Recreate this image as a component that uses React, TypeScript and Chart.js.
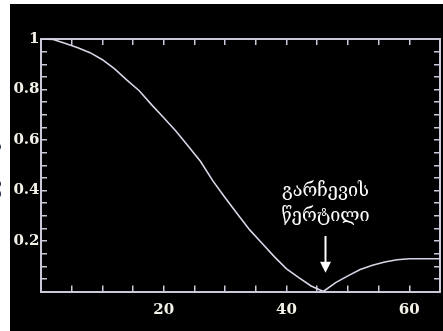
import React, { useEffect, useRef } from "react";
import { Chart, registerables } from "chart.js";

Chart.register(...registerables);

// Data
const xValues = [0, 2, 4, 6, 8, 10, 12, 14, 16, 18, 20, 22, 24, 26, 28, 30, 32, 34, 36, 38, 40, 42, 44, 46, 48, 50, 52, 54, 56, 58, 60, 62, 65];
const yValues = [1, 0.998, 0.982, 0.965, 0.946, 0.918, 0.882, 0.837, 0.795, 0.74, 0.688, 0.635, 0.575, 0.515, 0.438, 0.371, 0.307, 0.244, 0.191, 0.138, 0.09, 0.055, 0.022, 0.0, 0.035, 0.062, 0.087, 0.104, 0.117, 0.126, 0.13, 0.13, 0.13];
const xTickLabels = [20, 40, 60];
const yTickLabels = [0.2, 0.4, 0.6, 0.8, 1];
const annotationLines = ["გარჩევის", "წერტილი"];
const annotationX = 46.2;
const yAxisTitle = "ინტენსივობა";

const AXIS_COLOR = "#c9c9d9";
const TICK_FONT = { family: "'DejaVu Serif', serif", size: 15, weight: "bold" as const };

const zeroPad = (s: any) => {
  s.paddingLeft = 0;
  s.paddingRight = 0;
  s.paddingTop = 0;
  s.paddingBottom = 0;
};

export default function App() {
  const canvasRef = useRef<HTMLCanvasElement | null>(null);

  useEffect(() => {
    document.body.style.margin = "0";
    const canvas = canvasRef.current;
    if (!canvas) return;

    const bgPlugin = {
      id: "bg",
      beforeDraw(chart: any) {
        const ctx = chart.ctx;
        ctx.save();
        ctx.fillStyle = "#ffffff";
        ctx.fillRect(0, 0, chart.width, chart.height);
        // y axis title, mostly cut off on the white strip
        ctx.translate(-3, 165);
        ctx.rotate(-Math.PI / 2);
        ctx.fillStyle = "#1a2a44";
        ctx.font = "16px 'DejaVu Serif', serif";
        ctx.textAlign = "center";
        ctx.textBaseline = "alphabetic";
        ctx.fillText(yAxisTitle, 0, 0);
        ctx.restore();
        ctx.save();
        ctx.fillStyle = "#000000";
        ctx.fillRect(10, 4, chart.width - 10, chart.height - 4);
        ctx.restore();
      },
    };

    const annotationPlugin = {
      id: "annot",
      afterDraw(chart: any) {
        const ctx = chart.ctx;
        const xs = chart.scales.x;
        const ys = chart.scales.y;
        const px = Math.round(xs.getPixelForValue(annotationX)) + 0.5;
        ctx.save();
        ctx.fillStyle = "#ffffff";
        ctx.strokeStyle = "#ffffff";
        ctx.font = "18px 'DejaVu Serif', serif";
        ctx.textAlign = "center";
        ctx.textBaseline = "middle";
        ctx.fillText(annotationLines[0], px, ys.getPixelForValue(0.396));
        ctx.fillText(annotationLines[1], px, ys.getPixelForValue(0.297));
        // arrow
        const yTop = ys.getPixelForValue(0.22);
        const yTip = ys.getPixelForValue(0.074);
        ctx.lineWidth = 2;
        ctx.beginPath();
        ctx.moveTo(px, yTop);
        ctx.lineTo(px, yTip - 8);
        ctx.stroke();
        ctx.beginPath();
        ctx.moveTo(px - 5.5, yTip - 11);
        ctx.lineTo(px + 5.5, yTip - 11);
        ctx.lineTo(px, yTip);
        ctx.closePath();
        ctx.fill();
        ctx.restore();
      },
    };

    const xLabel = (v: number) => (xTickLabels.includes(Math.round(v)) ? String(Math.round(v)) : "");
    const yLabel = (v: number) => {
      const r = Math.round(v * 100) / 100;
      return yTickLabels.some((t) => Math.abs(t - r) < 1e-6) ? String(r) : "";
    };

    const gridOpts = {
      drawOnChartArea: false,
      drawTicks: true,
      tickLength: -6,
      color: AXIS_COLOR,
      lineWidth: 1.5,
    };
    const borderOpts = { display: true, color: AXIS_COLOR, width: 2 };

    const chart = new Chart(canvas, {
      type: "line",
      data: {
        datasets: [
          {
            data: xValues.map((x, i) => ({ x, y: yValues[i] })),
            borderColor: "#d6d6e6",
            borderWidth: 1.6,
            pointRadius: 0,
            tension: 0,
            fill: false,
          },
        ],
      },
      options: {
        animation: false,
        responsive: false,
        devicePixelRatio: 1,
        layout: { padding: 0 },
        plugins: { legend: { display: false }, tooltip: { enabled: false } },
        scales: {
          x: {
            type: "linear",
            position: "bottom",
            min: 0,
            max: 65,
            grid: gridOpts,
            border: borderOpts,
            ticks: {
              stepSize: 5,
              autoSkip: false,
              maxRotation: 0,
              padding: 16,
              color: "#f4f1e8",
              font: TICK_FONT,
              callback: (v: any) => xLabel(Number(v)),
            },
            afterFit: (s: any) => { s.height = 39.5; zeroPad(s); },
          },
          x2: {
            type: "linear",
            position: "top",
            min: 0,
            max: 65,
            grid: gridOpts,
            border: borderOpts,
            ticks: { stepSize: 5, autoSkip: false, maxRotation: 0, callback: () => "" },
            afterFit: (s: any) => { s.height = 39; zeroPad(s); },
          },
          y: {
            type: "linear",
            position: "left",
            min: 0,
            max: 1,
            grid: gridOpts,
            border: borderOpts,
            ticks: {
              stepSize: 0.05,
              autoSkip: false,
              padding: 7.5,
              color: "#f4f1e8",
              font: TICK_FONT,
              callback: (v: any) => yLabel(Number(v)),
            },
            afterFit: (s: any) => { s.width = 41; zeroPad(s); },
          },
          y2: {
            type: "linear",
            position: "right",
            min: 0,
            max: 1,
            grid: gridOpts,
            border: borderOpts,
            ticks: { stepSize: 0.05, autoSkip: false, callback: () => "" },
            afterFit: (s: any) => { s.width = 3; zeroPad(s); },
          },
        },
      } as any,
      plugins: [bgPlugin, annotationPlugin],
    });

    return () => chart.destroy();
  }, []);

  return (
    <div style={{ width: 443, height: 331 }}>
      <canvas ref={canvasRef} width={443} height={331} style={{ display: "block", width: 443, height: 331 }} />
    </div>
  );
}
